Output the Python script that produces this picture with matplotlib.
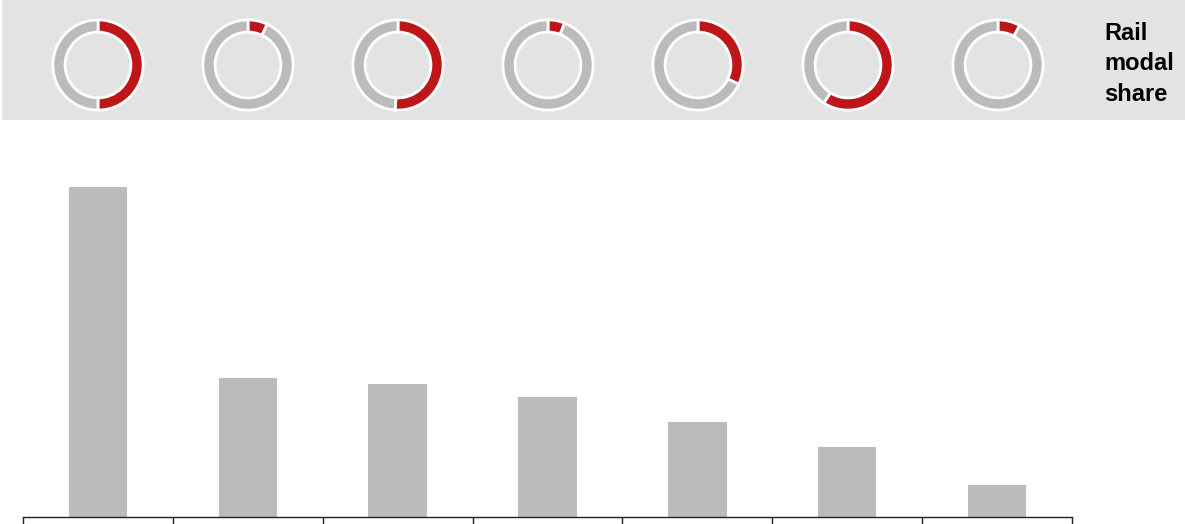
import matplotlib
matplotlib.use("Agg")
import matplotlib.pyplot as plt
from matplotlib.patches import Rectangle
import numpy as np

W, H = 1185, 524
DPI = 100

# ---- data ----
categories = ["A", "B", "C", "D", "E", "F", "G"]
bar_values = [330, 139, 133, 120, 95, 70, 32]
rail_share = [50, 7, 51, 6, 32, 59, 8]   # percent

RED = "#BE1518"
GREY = "#BBBBBB"
BAND = "#E2E3E2"

plt.rcParams['font.family'] = ['Liberation Sans', 'DejaVu Sans']

fig = plt.figure(figsize=(W / DPI, H / DPI), dpi=DPI)
fig.patch.set_facecolor("white")

def fx(px):
    return px / W

def fy(py):
    return 1 - py / H

# grey band
band = Rectangle((fx(2), fy(120)), fx(1185) - fx(2), fy(0) - fy(120),
                 transform=fig.transFigure, facecolor=BAND,
                 edgecolor="none", zorder=-10)
fig.patches.append(band)

# ---- bar chart ----
ax_left, ax_right, ax_bottom, ax_top = 23, 1072, 517, 187
ax = fig.add_axes([fx(ax_left), fy(ax_bottom), fx(ax_right) - fx(ax_left),
                   fy(ax_top) - fy(ax_bottom)])
x = np.arange(len(categories))
ax.bar(x, bar_values, width=0.39, color=GREY, zorder=2)
ax.set_xlim(-0.5, len(categories) - 0.5)
ax.set_ylim(0, max(bar_values))
for s in ["top", "right", "left"]:
    ax.spines[s].set_visible(False)
ax.spines["bottom"].set_color("#222222")
ax.spines["bottom"].set_linewidth(1.0)
ax.set_yticks([])
ax.set_xticks(np.arange(-0.5, len(categories)))
ax.set_xticklabels([])
ax.tick_params(axis="x", direction="out", length=5, width=1.0, color="#222222")
ax.patch.set_alpha(0)

# ---- donuts ----
cy = 65
R = 46
for i, share in enumerate(rail_share):
    cx = ax_left + 150 * (i + 0.5)
    dax = fig.add_axes([fx(cx - R), fy(cy + R), fx(2 * R), fy(cy - R) - fy(cy + R)])
    dax.patch.set_alpha(0)
    dax.pie([share, 100 - share], colors=[RED, GREY], startangle=90,
            counterclock=False, radius=1.0,
            wedgeprops=dict(width=0.27, edgecolor="white", linewidth=2))
    dax.set_xlim(-1.02, 1.02)
    dax.set_ylim(-1.02, 1.02)
    dax.set_aspect("equal")
    dax.axis("off")

fig.text(fx(1104), fy(64), "Rail\nmodal\nshare", ha="left", va="center",
         fontsize=17, fontweight="bold", linespacing=1.4, color="black")

fig.savefig("out.png", dpi=DPI, facecolor="white")
